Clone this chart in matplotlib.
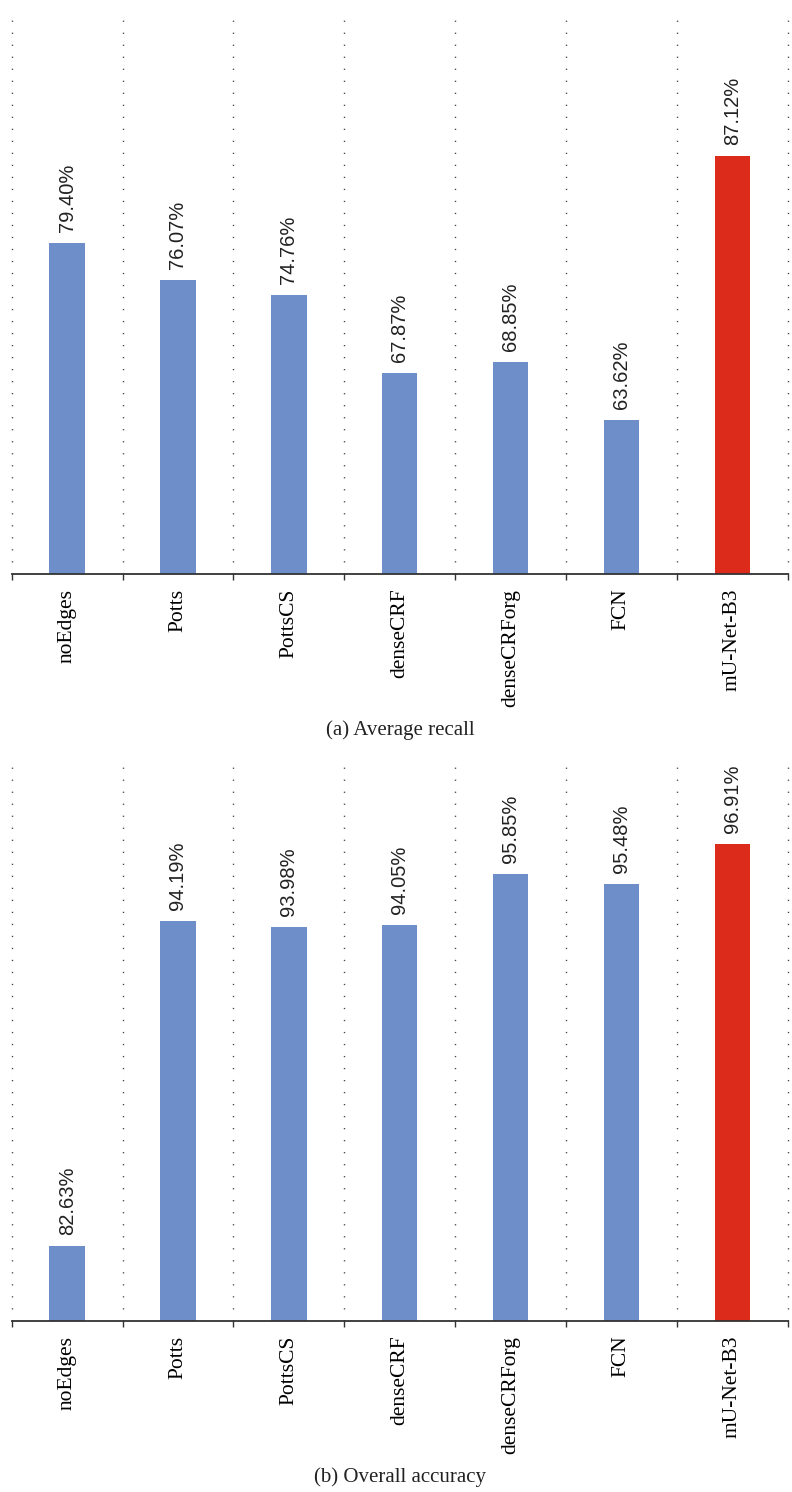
import matplotlib
matplotlib.use('Agg')
import matplotlib.pyplot as plt
import numpy as np

methods = ['noEdges', 'Potts', 'PottsCS', 'denseCRF', 'denseCRForg', 'FCN', 'mU-Net-B3']
avg_recall = [79.40, 76.07, 74.76, 67.87, 68.85, 63.62, 87.12]
overall_acc = [82.63, 94.19, 93.98, 94.05, 95.85, 95.48, 96.91]
captions = ['(a) Average recall', '(b) Overall accuracy']
ylims = [(50, 100), (80, 100)]

blue = '#6d8ec9'
red = '#dd2b1b'
serif = ['Liberation Serif', 'DejaVu Serif']
sans = ['Liberation Sans Narrow', 'Liberation Sans', 'DejaVu Sans']

W, H = 792, 1492
fig = plt.figure(figsize=(W / 100, H / 100), dpi=100)

# axes boxes in pixels: (top, bottom), caption y
boxes = [(11.5, 573.5, 730), (757, 1320.5, 1477)]
x0, x1 = 11.7, 787.7

for i, values in enumerate([avg_recall, overall_acc]):
    top, bot, cap_y = boxes[i]
    ax = fig.add_axes([x0 / W, (H - bot) / H, (x1 - x0) / W, (bot - top) / H])
    x = np.arange(len(methods))
    colors = [blue] * (len(methods) - 1) + [red]
    bars = ax.bar(x, values, width=0.32, color=colors, zorder=2)

    for b, v in zip(bars, values):
        ax.annotate(f'{v:.2f}%', (b.get_x() + b.get_width() / 2, v),
                    xytext=(0, 8), textcoords='offset points',
                    rotation=90, ha='center', va='bottom',
                    fontsize=14.5, family=sans, color='#222222')

    ax.set_xlim(-0.5, len(methods) - 0.5)
    ax.set_ylim(*ylims[i])

    # boundaries as major ticks (tick marks + dotted grid), names as minor ticks
    bounds = np.arange(len(methods) + 1) - 0.5
    ax.set_xticks(bounds)
    ax.set_xticklabels([''] * len(bounds))
    ax.set_xticks(x, minor=True)
    ax.set_xticklabels(methods, minor=True, rotation=90, family=serif,
                       fontsize=15.5, va='top')
    ax.tick_params(axis='x', which='major', direction='out', length=4.5,
                   width=1.0, color='#333333')
    ax.tick_params(axis='x', which='minor', length=0, pad=11)
    ax.grid(axis='x', which='major', color='#444444', linewidth=1.0,
            linestyle=(0, (0.9, 7.75)), zorder=0)
    for gl in ax.get_xgridlines():
        gl.set_clip_on(False)

    ax.set_yticks([])
    for s in ['left', 'right', 'top']:
        ax.spines[s].set_visible(False)
    ax.spines['bottom'].set_color('#333333')
    ax.spines['bottom'].set_linewidth(1.3)
    ax.spines['bottom'].set_zorder(3)

    fig.text(400 / W, (H - cap_y) / H, captions[i], ha='center', va='center',
             family=serif, fontsize=15, color='#222222')

fig.savefig('out.png', dpi=100)
